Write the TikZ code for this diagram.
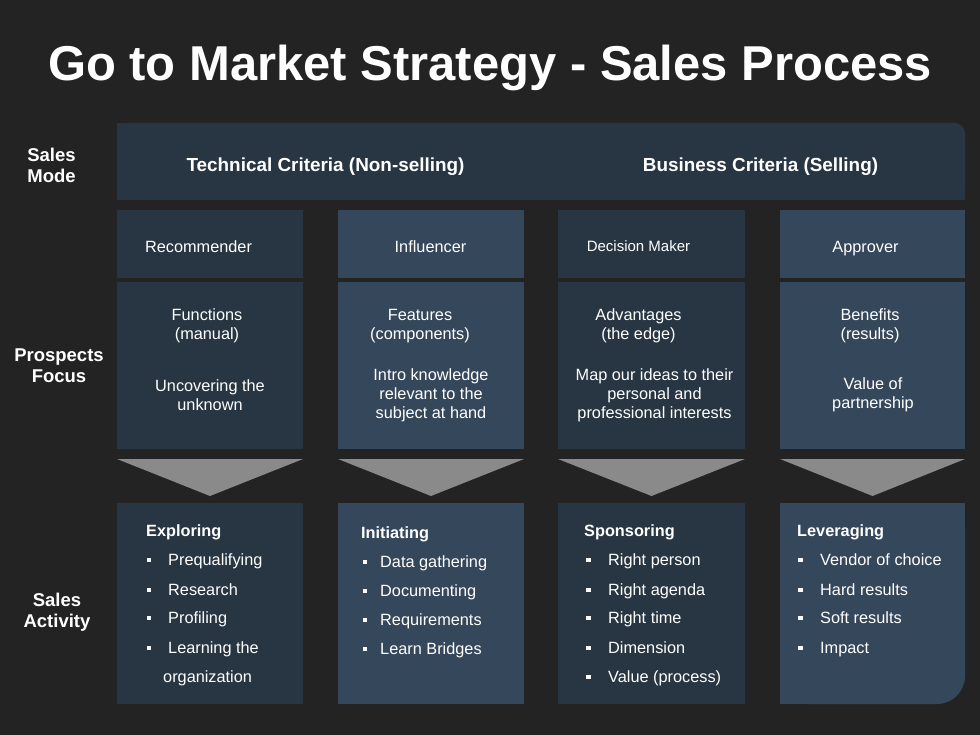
\documentclass[tikz,border=0pt]{standalone}
\usepackage{fontspec}
\usepackage{graphicx}
\setmainfont{Liberation Sans}
\definecolor{bg}{HTML}{232323}
\definecolor{dk}{HTML}{283542}
\definecolor{lt}{HTML}{35475A}
\definecolor{tri}{HTML}{8A8A8A}
\newcommand\ml[2][19pt]{\vtop{\baselineskip=#1\lineskiplimit=-20pt\halign{\hfil##\hfil\cr#2\crcr}}}
\begin{document}
\begin{tikzpicture}[x=1pt,y=-1pt,
  txt/.style={text=white, inner sep=0pt, font=\fontsize{16.3}{19}\selectfont},
  btxt/.style={text=white, inner sep=0pt, font=\fontsize{16.3}{19}\selectfont\bfseries},
  lbl/.style={text=white, inner sep=0pt, font=\fontsize{18.5}{21}\selectfont\bfseries},
  hdr/.style={text=white, inner sep=0pt, font=\fontsize{18.9}{21}\selectfont\bfseries},
  box/.style={draw=none, inner sep=0pt, anchor=north west},
  bulsq/.style={fill=white, draw=none, inner sep=0pt, minimum size=4.4pt}]
\fill[bg] (0,0) rectangle (980,735);
\useasboundingbox (0,0) rectangle (980,735);

% title
\node[anchor=base, text=white, inner sep=0pt] (title) at (490,81)
  {\resizebox{884pt}{!}{\fontsize{49}{49}\selectfont\bfseries Go to Market Strategy - Sales Process}};

% header bar with rounded top-right corner
\fill[dk, rounded corners=10pt] (117,123) rectangle (965,200);
\fill[dk] (117,123) rectangle (940,200);
\fill[dk] (117,150) rectangle (965,200);
\node[hdr, anchor=base] (tech) at (325.5,172) {Technical Criteria (Non-selling)};
\node[hdr, anchor=base] (biz) at (760.5,172) {Business Criteria (Selling)};

% left labels
\node[lbl, anchor=base] (mode) at (51.5,162) {\ml[21pt]{Sales\cr Mode}};
\node[lbl, anchor=base] (focus) at (59,361) {\ml[21pt]{Prospects\cr Focus}};
\node[lbl, anchor=base] (activity) at (57,606) {\ml[21pt]{Sales\cr Activity}};

% row 1 boxes
\node[box, fill=dk, minimum width=186pt, minimum height=68pt] (rb1) at (117,210) {};
\node[box, fill=lt, minimum width=186pt, minimum height=68pt] (rb2) at (338,210) {};
\node[box, fill=dk, minimum width=187pt, minimum height=68pt] (rb3) at (558,210) {};
\node[box, fill=lt, minimum width=185pt, minimum height=68pt] (rb4) at (780,210) {};
% row 2 boxes
\node[box, fill=dk, minimum width=186pt, minimum height=167pt] (fb1) at (117,282) {};
\node[box, fill=lt, minimum width=186pt, minimum height=167pt] (fb2) at (338,282) {};
\node[box, fill=dk, minimum width=187pt, minimum height=167pt] (fb3) at (558,282) {};
\node[box, fill=lt, minimum width=185pt, minimum height=167pt] (fb4) at (780,282) {};
% row 3 boxes
\node[box, fill=dk, minimum width=186pt, minimum height=201pt] (ab1) at (117,503) {};
\node[box, fill=lt, minimum width=186pt, minimum height=201pt] (ab2) at (338,503) {};
\node[box, fill=dk, minimum width=187pt, minimum height=201pt] (ab3) at (558,503) {};
\fill[lt, rounded corners=28pt] (780,503) rectangle (965,704);
\fill[lt] (780,503) rectangle (930,704);
\fill[lt] (780,503) rectangle (965,670);

% triangles
\fill[tri] (117,459) -- (303,459) -- (210,496) -- cycle;
\fill[tri] (338,459) -- (524,459) -- (431,496) -- cycle;
\fill[tri] (558,459) -- (745,459) -- (651.5,496) -- cycle;
\fill[tri] (780,459) -- (965,459) -- (872.5,496) -- cycle;

% row 1 text
\node[txt, anchor=base] (rec) at (198.5,253) {Recommender};
\node[txt, anchor=base] (inf) at (430.5,253) {Influencer};
\node[txt, anchor=base, font=\fontsize{15}{18}\selectfont] (dm) at (638.5,252) {Decision Maker};
\node[txt, anchor=base] (app) at (865.5,253) {Approver};

% row 2 text
\node[txt, anchor=base] (f1a) at (207,321) {\ml{Functions\cr (manual)}};
\node[txt, anchor=base] (f1b) at (210,391) {\ml{Uncovering the\cr unknown}};
\node[txt, anchor=base] (f2a) at (420,321) {\ml{Features\cr (components)}};
\node[txt, anchor=base] (f2b) at (431,381) {\ml{Intro knowledge\cr relevant to the\cr subject at hand}};
\node[txt, anchor=base] (f3a) at (638.5,320) {\ml{Advantages\cr (the edge)}};
\node[txt, anchor=base] (f3b) at (654.5,381) {\ml{Map our ideas to their\cr personal and\cr professional interests}};
\node[txt, anchor=base] (f4a) at (870,320) {\ml{Benefits\cr (results)}};
\node[txt, anchor=base] (f4b) at (873,389) {\ml{Value of\cr partnership}};

% row 3 titles
\node[btxt, anchor=base west] (t1) at (146,536) {Exploring};
\node[btxt, anchor=base west] (t2) at (361,538) {Initiating};
\node[btxt, anchor=base west] (t3) at (584,536) {Sponsoring};
\node[btxt, anchor=base west] (t4) at (797,536) {Leveraging};

% column 1 items
\foreach \y/\t [count=\i] in {565/Prequalifying, 595/Research, 623/Profiling, 653/Learning the}{
  \node[bulsq] (b1\i) at (149,\y-5) {};
  \node[txt, anchor=base west] (i1\i) at (168,\y) {\t};
}
\node[txt, anchor=base west] (i15) at (163,682) {organization};
% column 2 items
\foreach \y/\t [count=\i] in {567/Data gathering, 596/Documenting, 625/Requirements, 654/Learn Bridges}{
  \node[bulsq] (b2\i) at (365,\y-5) {};
  \node[txt, anchor=base west] (i2\i) at (380,\y) {\t};
}
% column 3 items
\foreach \y/\t [count=\i] in {565/Right person, 595/Right agenda, 623/Right time, 653/Dimension, 682/Value (process)}{
  \node[bulsq] (b3\i) at (588.5,\y-5) {};
  \node[txt, anchor=base west] (i3\i) at (608,\y) {\t};
}
% column 4 items
\foreach \y/\t [count=\i] in {565/Vendor of choice, 595/Hard results, 623/Soft results, 653/Impact}{
  \node[bulsq] (b4\i) at (800.5,\y-5) {};
  \node[txt, anchor=base west] (i4\i) at (820,\y) {\t};
}
\end{tikzpicture}
\end{document}
